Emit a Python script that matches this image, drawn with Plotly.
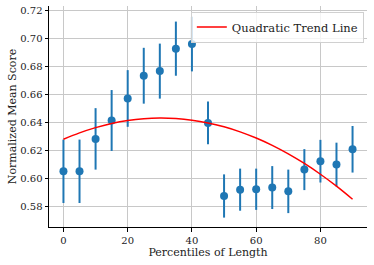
import numpy as np
import plotly.graph_objects as go

percentiles = [0, 5, 10, 15, 20, 25, 30, 35, 40, 45, 50, 55, 60, 65, 70, 75, 80, 85, 90]
mean_scores = [0.6052, 0.6052, 0.6283, 0.6414, 0.6571, 0.6733, 0.6766, 0.6926, 0.6959, 0.6397,
               0.5876, 0.5921, 0.5924, 0.5936, 0.5909, 0.6064, 0.6124, 0.6100, 0.6209]
errors = [0.0226, 0.0226, 0.0219, 0.0217, 0.0202, 0.0199, 0.0196, 0.0193, 0.0195, 0.0153,
          0.0154, 0.0150, 0.0147, 0.0153, 0.0155, 0.0146, 0.0152, 0.0156, 0.0166]
x_ticks = [0, 20, 40, 60, 80]
y_ticks = [0.58, 0.60, 0.62, 0.64, 0.66, 0.68, 0.70, 0.72]

# quadratic trend line fitted to the means
coef = np.polyfit(percentiles, mean_scores, 2)
trend = np.polyval(coef, percentiles)

font_family = "DejaVu Serif"
blue = "#1f77b4"

fig = go.Figure()
fig.add_trace(go.Scatter(
    x=percentiles, y=mean_scores, mode="markers",
    marker=dict(color=blue, size=8),
    error_y=dict(type="data", array=errors, visible=True, color=blue, thickness=2, width=0),
    showlegend=False,
))
fig.add_trace(go.Scatter(
    x=percentiles, y=trend, mode="lines", line=dict(color="red", width=1.5, shape="spline"),
    name="Quadratic Trend Line",
))

fig.update_layout(
    width=374, height=265,
    margin=dict(l=49, r=7, t=6, b=38),
    plot_bgcolor="white", paper_bgcolor="white",
    font=dict(family=font_family, size=10, color="#222"),
    legend=dict(x=0.99, y=0.975, xanchor="right", yanchor="top",
                bgcolor="rgba(255,255,255,0.8)", bordercolor="#d0d0d0", borderwidth=1,
                font=dict(family=font_family, size=11.5)),
)
fig.update_xaxes(
    range=[-4.5, 94.5], tickvals=x_ticks, ticks="outside", ticklen=3.5, tickcolor="black",
    showline=True, linecolor="black", linewidth=1, mirror=False, automargin=False,
    showgrid=True, gridcolor="#c8c8c8", gridwidth=1, zeroline=False,
    title=dict(text="Percentiles of Length", font=dict(family=font_family, size=11), standoff=3),
    tickfont=dict(family=font_family, size=10),
)
fig.update_yaxes(
    range=[0.5655, 0.7230], tickvals=y_ticks, tickformat=".2f", ticks="outside", ticklen=3.5,
    tickcolor="black", showline=True, linecolor="black", linewidth=1, mirror=False, automargin=False,
    showgrid=True, gridcolor="#c8c8c8", gridwidth=1, zeroline=False,
    title=dict(text="Normalized Mean Score", font=dict(family=font_family, size=11), standoff=1),
    tickfont=dict(family=font_family, size=10),
)

fig.write_html("out.html", config={"displayModeBar": False},
               post_script="document.body.style.margin='0';document.body.style.overflow='hidden';")
